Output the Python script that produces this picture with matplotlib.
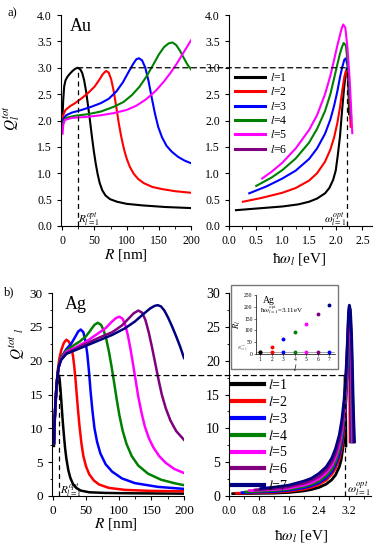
import matplotlib
matplotlib.use('Agg')
import matplotlib.pyplot as plt
from matplotlib.patches import Rectangle, ConnectionPatch
from matplotlib.ticker import MultipleLocator

plt.rcParams['font.family'] = ['Liberation Serif', 'DejaVu Serif']
plt.rcParams['mathtext.fontset'] = 'stix'

colors = ['#000000', '#ff0000', '#0000ff', '#008000', '#ff00ff', '#800080', '#000080']

# ---- a) Au : Q vs R ----
au_R1 = [0.5, 1.5, 3, 5, 8, 12, 16, 20, 24, 28, 31, 34, 37, 40, 43, 46, 49, 52, 55, 58, 62, 67, 74, 85, 100, 125, 160, 200]
au_Q1 = [2.12, 2.4, 2.65, 2.76, 2.83, 2.89, 2.94, 2.98, 3.0, 2.97, 2.9, 2.76, 2.55, 2.28, 2.0, 1.7, 1.42, 1.18, 0.98, 0.82, 0.68, 0.58, 0.51, 0.46, 0.42, 0.39, 0.36, 0.34]
au_R2 = [0.5, 2, 5, 12, 20, 30, 40, 50, 58, 63, 68, 72, 76, 80, 84, 88, 92, 96, 100, 105, 111, 118, 127, 140, 155, 175, 200]
au_Q2 = [2.0, 2.12, 2.2, 2.27, 2.33, 2.42, 2.52, 2.64, 2.78, 2.88, 2.94, 2.91, 2.78, 2.55, 2.25, 1.93, 1.67, 1.45, 1.28, 1.12, 0.99, 0.89, 0.81, 0.74, 0.7, 0.66, 0.63]
au_R3 = [0.5, 2, 6, 15, 30, 45, 60, 72, 84, 94, 103, 110, 115, 119, 124, 129, 134, 139, 144, 149, 155, 162, 170, 180, 190, 200]
au_Q3 = [1.95, 2.03, 2.1, 2.15, 2.2, 2.26, 2.33, 2.41, 2.55, 2.72, 2.92, 3.07, 3.16, 3.18, 3.14, 3.0, 2.75, 2.43, 2.13, 1.88, 1.68, 1.52, 1.41, 1.31, 1.24, 1.19]
au_R4 = [0.5, 2, 6, 20, 40, 60, 80, 95, 108, 120, 130, 140, 150, 158, 165, 171, 177, 183, 189, 195, 200]
au_Q4 = [1.9, 1.98, 2.05, 2.09, 2.12, 2.17, 2.26, 2.35, 2.48, 2.64, 2.82, 3.03, 3.25, 3.39, 3.46, 3.48, 3.43, 3.32, 3.18, 3.05, 2.97]
au_R5 = [0.5, 1.5, 4, 15, 40, 60, 80, 100, 115, 130, 145, 158, 168, 178, 186, 193, 200]
au_Q5 = [1.75, 1.92, 2.01, 2.05, 2.07, 2.1, 2.14, 2.2, 2.28, 2.4, 2.56, 2.74, 2.9, 3.08, 3.24, 3.38, 3.52]

# ---- a) Au : Q vs hbar*omega ----
au_w1 = [0.13, 0.5, 1.0, 1.3, 1.5, 1.65, 1.8, 1.88, 1.95, 2.0, 2.04, 2.08, 2.12, 2.16, 2.19, 2.21, 2.23, 2.24, 2.25]
au_q1 = [0.30, 0.33, 0.37, 0.41, 0.46, 0.52, 0.62, 0.72, 0.87, 1.05, 1.35, 1.7, 2.2, 2.65, 2.9, 2.99, 2.9, 2.6, 2.12]
au_w2 = [0.26, 0.6, 1.0, 1.25, 1.5, 1.65, 1.8, 1.9, 1.97, 2.03, 2.08, 2.12, 2.16, 2.19, 2.22, 2.25, 2.28]
au_q2 = [0.46, 0.53, 0.63, 0.72, 0.86, 1.0, 1.22, 1.45, 1.68, 1.95, 2.25, 2.55, 2.82, 2.94, 2.85, 2.5, 1.88]
au_w3 = [0.38, 0.7, 1.0, 1.25, 1.5, 1.65, 1.8, 1.9, 1.97, 2.03, 2.08, 2.12, 2.16, 2.19, 2.22, 2.25, 2.29]
au_q3 = [0.62, 0.75, 0.9, 1.05, 1.27, 1.47, 1.75, 2.02, 2.28, 2.55, 2.82, 3.0, 3.15, 3.18, 3.05, 2.6, 2.05]
au_w4 = [0.51, 0.8, 1.0, 1.25, 1.5, 1.65, 1.8, 1.9, 1.97, 2.03, 2.08, 2.12, 2.15, 2.19, 2.23, 2.26, 2.28]
au_q4 = [0.76, 0.92, 1.06, 1.28, 1.58, 1.84, 2.18, 2.5, 2.8, 3.06, 3.27, 3.4, 3.47, 3.42, 3.05, 2.55, 2.1]
au_w5 = [0.62, 0.8, 1.0, 1.25, 1.5, 1.65, 1.8, 1.9, 1.97, 2.03, 2.08, 2.11, 2.14, 2.18, 2.22, 2.26, 2.29, 2.31]
au_q5 = [0.9, 1.03, 1.2, 1.47, 1.82, 2.1, 2.5, 2.85, 3.15, 3.42, 3.62, 3.74, 3.82, 3.76, 3.38, 2.8, 2.2, 1.76]

# ---- b) Ag : Q vs R ----
ag_R1 = [1, 2, 3, 4.5, 6, 7.5, 8.5, 9.5, 11, 12.5, 14, 16, 18, 20, 23, 26, 30, 35, 42, 55, 80, 120, 200]
ag_Q1 = [7.4, 10.5, 12.8, 15, 16.6, 17.5, 17.8, 17.4, 15.8, 13.7, 11.6, 9.2, 7.1, 5.5, 3.8, 2.7, 1.8, 1.2, 0.8, 0.55, 0.45, 0.4, 0.35]
ag_R2 = [1, 2, 3, 5, 7, 9, 12, 16, 20, 24, 27, 30, 32, 34, 36, 38, 40, 43, 46, 50, 55, 62, 70, 85, 110, 150, 200]
ag_Q2 = [7.8, 11, 13.2, 16.5, 18.7, 20.2, 21.5, 22.6, 23.1, 22.8, 22.1, 20.8, 19.2, 17.2, 14.8, 12.5, 10.4, 7.8, 5.9, 4.4, 3.2, 2.3, 1.7, 1.2, 0.9, 0.75, 0.7]
ag_R3 = [1, 2, 3, 5, 8, 12, 20, 28, 34, 38, 42, 46, 49, 52, 54.5, 57, 60, 63, 67, 72, 80, 90, 105, 125, 160, 200]
ag_Q3 = [7.8, 11, 13.2, 16.5, 19, 20.5, 21.7, 22.6, 23.6, 24.3, 24.6, 24.2, 23, 21, 18.5, 15.5, 12.5, 10, 8, 6.3, 4.7, 3.6, 2.6, 1.9, 1.35, 1.05]
ag_R4 = [1, 2, 3, 5, 8, 12, 20, 30, 40, 50, 57, 63, 68, 73, 77, 81, 85, 89, 93, 97, 101, 106, 112, 120, 130, 145, 165, 185, 200]
ag_Q4 = [7.8, 11, 13.2, 16.5, 19, 20.5, 21.5, 22.2, 22.8, 23.6, 24.5, 25.3, 25.6, 25.3, 24.5, 23.2, 21.4, 19.2, 16.8, 14.3, 12, 9.7, 7.7, 5.9, 4.5, 3.3, 2.4, 1.9, 1.6]
ag_R5 = [1, 2, 3, 5, 8, 12, 20, 35, 50, 65, 80, 90, 96, 101, 106, 110, 114, 118, 122, 126, 130, 135, 140, 146, 153, 162, 172, 185, 200]
ag_Q5 = [7.8, 11, 13.2, 16.5, 19, 20.3, 21.3, 22, 22.8, 23.8, 24.8, 25.8, 26.3, 26.5, 26.2, 25.3, 23.8, 21.8, 19.5, 17.1, 14.7, 12.3, 10.3, 8.6, 7.2, 5.9, 4.9, 4.0, 3.4]
ag_R6 = [1, 2, 3, 5, 8, 12, 20, 35, 50, 70, 90, 105, 115, 123, 130, 136, 141, 146, 151, 156, 161, 166, 172, 179, 188, 200]
ag_Q6 = [7.8, 11, 13.2, 16.5, 19, 20.2, 21.1, 21.8, 22.5, 23.4, 24.2, 25.2, 26.2, 27, 27.4, 27.1, 26, 24.2, 22, 19.6, 17.2, 15, 13, 11.2, 9.6, 8.3]
ag_R7 = [1, 2, 3, 5, 8, 12, 20, 35, 50, 70, 90, 110, 125, 138, 148, 155, 160, 165, 170, 176, 182, 188, 194, 200]
ag_Q7 = [7.8, 11, 13.2, 16.5, 19, 20.1, 21, 21.6, 22.2, 23, 23.8, 24.8, 25.8, 26.9, 27.7, 28.1, 28.2, 28, 27.4, 26.3, 25, 23.6, 22.1, 20.4]

# ---- b) Ag : Q vs hbar*omega ----
ag_w1 = [0.1, 1.2, 1.6, 2.0, 2.2, 2.4, 2.6, 2.75, 2.85, 2.95, 3.0, 3.04, 3.07, 3.09, 3.1, 3.11, 3.12, 3.13]
ag_q1 = [0.35, 0.42, 0.52, 0.75, 0.95, 1.25, 1.75, 2.4, 3.1, 4.3, 5.3, 6.8, 9.0, 12, 14.5, 17.8, 14, 7.4]
ag_w2 = [0.2, 1.2, 1.6, 2.0, 2.2, 2.4, 2.6, 2.75, 2.85, 2.95, 3.02, 3.08, 3.12, 3.145, 3.165, 3.18, 3.19, 3.21, 3.23, 3.235, 3.24]
ag_q2 = [0.4, 0.55, 0.7, 1.0, 1.28, 1.7, 2.35, 3.2, 4.1, 5.5, 7.2, 9.8, 12.8, 16, 20, 22.5, 23.1, 22, 17, 12, 8]
ag_w3 = [0.35, 1.2, 1.6, 2.0, 2.2, 2.4, 2.6, 2.75, 2.85, 2.95, 3.02, 3.08, 3.12, 3.15, 3.17, 3.19, 3.205, 3.23, 3.25, 3.26, 3.27]
ag_q3 = [0.5, 0.65, 0.85, 1.2, 1.5, 1.95, 2.65, 3.6, 4.6, 6.1, 8.0, 10.7, 13.7, 17, 20.5, 23.5, 24.6, 23.5, 19, 14, 8]
ag_w4 = [0.45, 1.2, 1.6, 2.0, 2.2, 2.4, 2.6, 2.75, 2.85, 2.95, 3.02, 3.08, 3.12, 3.15, 3.18, 3.2, 3.215, 3.24, 3.26, 3.28, 3.29]
ag_q4 = [0.6, 0.8, 1.0, 1.4, 1.72, 2.2, 3.0, 4.0, 5.1, 6.8, 8.8, 11.6, 14.7, 18, 22.5, 25, 25.6, 24.5, 20.5, 13, 8]
ag_w5 = [0.55, 1.2, 1.6, 2.0, 2.2, 2.4, 2.6, 2.75, 2.85, 2.95, 3.02, 3.08, 3.12, 3.15, 3.18, 3.2, 3.22, 3.25, 3.27, 3.29, 3.3, 3.31]
ag_q5 = [0.8, 0.95, 1.15, 1.6, 1.95, 2.5, 3.4, 4.5, 5.7, 7.5, 9.6, 12.5, 15.6, 19, 23.5, 26, 26.5, 25, 21, 15, 11, 8]
ag_w6 = [0.7, 1.2, 1.6, 2.0, 2.2, 2.4, 2.6, 2.75, 2.85, 2.95, 3.02, 3.08, 3.12, 3.15, 3.18, 3.2, 3.22, 3.25, 3.28, 3.3, 3.32, 3.33]
ag_q6 = [0.9, 1.1, 1.35, 1.85, 2.25, 2.85, 3.8, 5.0, 6.3, 8.2, 10.4, 13.3, 16.4, 19.8, 24, 26.8, 27.3, 26.2, 22, 17, 11.5, 8]
ag_w7 = [0.85, 1.2, 1.6, 2.0, 2.2, 2.4, 2.6, 2.75, 2.85, 2.95, 3.02, 3.08, 3.12, 3.15, 3.18, 3.2, 3.22, 3.25, 3.28, 3.3, 3.32, 3.34, 3.36]
ag_q7 = [1.1, 1.3, 1.6, 2.2, 2.6, 3.3, 4.3, 5.6, 7.0, 9.0, 11.3, 14.3, 17.3, 20.5, 24.5, 27.5, 28.2, 27.5, 24, 20, 15, 11, 8]

# inset data
inset_l = [1, 2, 3, 4, 5, 6, 7]
inset_R = [9, 30, 63, 95, 128, 168, 207]
inset_Ropt = [9, 9, 9, 9, 9, 9, 9]

au_R_opt, au_Q_opt, au_w_opt = 24, 3.0, 2.21
ag_R_opt, ag_Q_opt, ag_w_opt = 8.5, 17.8, 3.11

fig = plt.figure(figsize=(3.76, 5.5), dpi=100)
W, H = 376.0, 550.0
def box(l, r, t, b):
    return [l / W, 1 - b / H, (r - l) / W, (b - t) / H]

ax1 = fig.add_axes(box(61, 191, 15, 226))
ax2 = fig.add_axes(box(229, 372, 15, 226))
ax3 = fig.add_axes(box(52, 184, 293, 496))
ax4 = fig.add_axes(box(229, 371, 293, 496))

for ax in (ax1, ax2, ax3, ax4):
    ax.spines['top'].set_visible(False)
    ax.spines['right'].set_visible(False)
    ax.tick_params(direction='out', length=3, width=0.8)
    ax.tick_params(which='minor', direction='out', length=1.8, width=0.6)

# a) left
for i, (R, Q) in enumerate([(au_R1, au_Q1), (au_R2, au_Q2), (au_R3, au_Q3),
                            (au_R4, au_Q4), (au_R5, au_Q5)]):
    ax1.plot(R, Q, color=colors[i], lw=1.5)
ax1.set_xlim(-2, 200)
ax1.set_ylim(0, 4)
ax1.xaxis.set_major_locator(MultipleLocator(50))
ax1.xaxis.set_minor_locator(MultipleLocator(25))
ax1.yaxis.set_major_locator(MultipleLocator(0.5))
ax1.yaxis.set_major_formatter(plt.FormatStrFormatter('%.1f'))
ax1.tick_params(labelsize=8.5)
ax1.plot([au_R_opt, au_R_opt], [0, au_Q_opt], 'k--', lw=0.9, dashes=(4, 3))
ax1.text(au_R_opt + 1, 0.06, r'$R^{opt}_{l=1}$', fontsize=8)
ax1.text(0.07, 0.985, 'Au', transform=ax1.transAxes, fontsize=13, va='top')
ax1.set_xlabel(r'$R$ [nm]', fontsize=11)
ax1.xaxis.set_label_coords(0.5, -0.1)
ax1.text(-0.375, 0.51, r'$Q_l^{tot}$', transform=ax1.transAxes, rotation=90,
         fontsize=11, ha='center', va='center')

# a) right
for i, (w, q) in enumerate([(au_w1, au_q1), (au_w2, au_q2), (au_w3, au_q3),
                            (au_w4, au_q4), (au_w5, au_q5)]):
    ax2.plot(w, q, color=colors[i], lw=1.5, label=r'$l$=%d' % (i + 1))
ax2.plot([], [], color=colors[5], lw=1.5, label=r'$l$=6')
ax2.set_xlim(0, 2.68)
ax2.set_ylim(0, 4)
ax2.xaxis.set_major_locator(MultipleLocator(0.5))
ax2.xaxis.set_minor_locator(MultipleLocator(0.25))
ax2.yaxis.set_major_locator(MultipleLocator(0.5))
ax2.xaxis.set_major_formatter(plt.FormatStrFormatter('%.1f'))
ax2.yaxis.set_major_formatter(plt.FormatStrFormatter('%.1f'))
ax2.tick_params(labelsize=8.5)
ax2.plot([au_w_opt, au_w_opt], [0, au_Q_opt], 'k--', lw=0.9, dashes=(4, 3))
ax2.text(au_w_opt - 0.01, 0.06, r'$\omega^{opt}_{l=1}$', fontsize=8, ha='right')
ax2.set_xlabel(r'ħ$\omega_l$ [eV]', fontsize=11)
ax2.xaxis.set_label_coords(0.49, -0.12)
leg = ax2.legend(loc='upper left', bbox_to_anchor=(0.045, 0.73), frameon=False,
                 fontsize=8.5, handlelength=2.5, handletextpad=0.4,
                 labelspacing=0.2, borderpad=0, borderaxespad=0)
for h in leg.get_lines():
    h.set_linewidth(2.2)

con = ConnectionPatch(xyA=(au_R_opt, au_Q_opt), coordsA=ax1.transData,
                      xyB=(au_w_opt, au_Q_opt), coordsB=ax2.transData,
                      color='k', lw=0.9, linestyle=(0, (4, 3)))
fig.add_artist(con)

# b) left
ag_left = [(ag_R1, ag_Q1), (ag_R2, ag_Q2), (ag_R3, ag_Q3), (ag_R4, ag_Q4),
           (ag_R5, ag_Q5), (ag_R6, ag_Q6), (ag_R7, ag_Q7)]
for i, (R, Q) in enumerate(ag_left):
    ax3.plot(R, Q, color=colors[i], lw=1.8)
ax3.set_xlim(-2, 200)
ax3.set_ylim(0, 30)
ax3.xaxis.set_major_locator(MultipleLocator(50))
ax3.xaxis.set_minor_locator(MultipleLocator(25))
ax3.yaxis.set_major_locator(MultipleLocator(5))
ax3.yaxis.set_minor_locator(MultipleLocator(2.5))
ax3.tick_params(labelsize=9.5)
ax3.plot([ag_R_opt, ag_R_opt], [0, ag_Q_opt], 'k--', lw=0.9, dashes=(4, 3))
ax3.text(ag_R_opt + 1, 0.3, r'$R^{opt}_{l=1}$', fontsize=8)
ax3.text(0.1, 0.985, 'Ag', transform=ax3.transAxes, fontsize=13, va='top')
ax3.set_xlabel(r'$R$ [nm]', fontsize=11)
ax3.xaxis.set_label_coords(0.485, -0.1)
ax3.text(-0.26, 0.75, r'$Q^{tot}{}_{\ l}$', transform=ax3.transAxes, rotation=90,
         fontsize=11, ha='center', va='center')

# b) right
ag_right = [(ag_w1, ag_q1), (ag_w2, ag_q2), (ag_w3, ag_q3), (ag_w4, ag_q4),
            (ag_w5, ag_q5), (ag_w6, ag_q6), (ag_w7, ag_q7)]
for i, (w, q) in enumerate(ag_right):
    ax4.plot(w, q, color=colors[i], lw=2.0, label=r'$l$=%d' % (i + 1))
ax4.set_xlim(0, 3.8)
ax4.set_ylim(0, 30)
ax4.set_xticks([0.0, 0.8, 1.6, 2.4, 3.2])
ax4.xaxis.set_minor_locator(MultipleLocator(0.4))
ax4.xaxis.set_major_formatter(plt.FormatStrFormatter('%.1f'))
ax4.yaxis.set_major_locator(MultipleLocator(5))
ax4.yaxis.set_minor_locator(MultipleLocator(2.5))
ax4.tick_params(axis='y', labelsize=10)
ax4.tick_params(axis='x', labelsize=8.5)
ax4.plot([ag_w_opt, ag_w_opt], [0, ag_Q_opt], 'k--', lw=0.9, dashes=(4, 3))
ax4.text(ag_w_opt + 0.04, 0.5, r'$\omega^{opt}_{l=1}$', fontsize=8.5, ha='left')
ax4.set_xlabel(r'ħ$\omega_l$ [eV]', fontsize=11)
ax4.xaxis.set_label_coords(0.507, -0.16)
leg = ax4.legend(loc='upper left', bbox_to_anchor=(0.02, 0.58), frameon=False,
                 fontsize=10, handlelength=2.3, handletextpad=0.3,
                 labelspacing=0.2, borderpad=0, borderaxespad=0)
for h in leg.get_lines():
    h.set_linewidth(3)

con2 = ConnectionPatch(xyA=(ag_R_opt, ag_Q_opt), coordsA=ax3.transData,
                       xyB=(ag_w_opt, ag_Q_opt), coordsB=ax4.transData,
                       color='k', lw=0.9, linestyle=(0, (4, 3)))
fig.add_artist(con2)

# inset frame and inset axes
frame = Rectangle((231 / W, 1 - 369 / H), 107 / W, 84 / H, transform=fig.transFigure,
                  facecolor='white', edgecolor='#777777', lw=1.0, zorder=3)
fig.add_artist(frame)
axi = fig.add_axes(box(256, 335, 295, 354))
axi.set_zorder(5)
axi.patch.set_alpha(0)
axi.spines['top'].set_visible(False)
axi.spines['right'].set_visible(False)
for s in axi.spines.values():
    s.set_linewidth(0.5)
axi.axhline(inset_Ropt[0], color='#999999', lw=0.6)
for i in range(7):
    axi.plot(inset_l[i], inset_R[i], 'o', color=colors[i], ms=1.8)
    axi.plot(inset_l[i], inset_Ropt[i], 'o', color=colors[i if i < 6 else 2], ms=1.8)
axi.set_xlim(0.63, 7.5)
axi.set_ylim(0, 250)
axi.set_xticks(inset_l)
axi.set_yticks([0, 50, 100, 150, 200, 250])
axi.tick_params(labelsize=4, length=1.5, width=0.4, pad=1)
axi.set_xlabel(r'$l$', fontsize=6, labelpad=0)
axi.set_ylabel(r'$R_l$', fontsize=6, labelpad=1)
axi.text(1.2, 245, 'Ag', fontsize=7, va='top')
axi.text(0.95, 185, r'ħ$\omega^{opt}_{l=1}$=3.11eV', fontsize=5, va='center')
axi.text(-0.1, 0.1, r'$R^{opt}_{l=1}$', transform=axi.transAxes, fontsize=3.5,
         ha='right', va='center', color='#555555')

fig.text(0.02, 0.976, 'a)', fontsize=9, va='center')
fig.text(0.01, 0.468, 'b)', fontsize=9, va='center')

fig.savefig('out.png', dpi=100)
